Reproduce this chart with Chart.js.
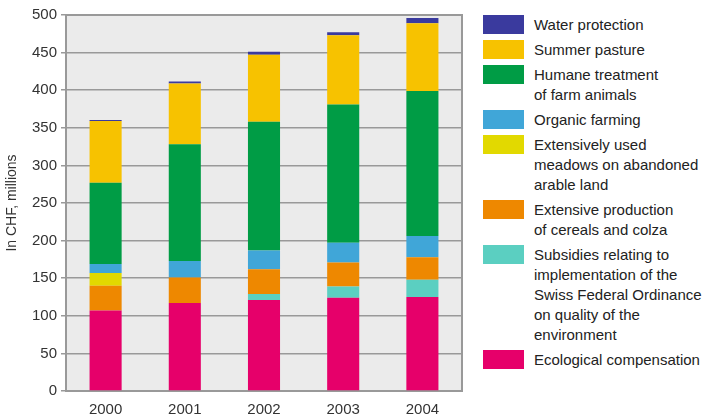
<!DOCTYPE html>
<html>
<head>
<meta charset="utf-8">
<script src="https://cdn.jsdelivr.net/npm/chart.js@4"></script>
<style>
  body { margin: 0; background: #fff; font-family: "Liberation Sans", Arial, sans-serif; }
  #wrap { position: absolute; left: 0; top: 0; width: 464px; height: 414px; }
  #legend { position: absolute; left: 483px; top: 15px; width: 222px; font-size: 15px; color: #222; }
  .item { position: relative; padding-left: 51px; line-height: 20px; margin-bottom: 5px; white-space: nowrap; }
  .box { position: absolute; left: 0; top: 0; width: 41px; height: 19px; }
</style>
</head>
<body>
<div id="wrap"><canvas id="graph1" width="464" height="414"></canvas></div>
<div id="legend"></div>
<script>
var years = ["2000", "2001", "2002", "2003", "2004"];

// stacked bottom to top
var ecological = [107, 117, 121, 124, 125];
var subsidies = [0, 0, 8, 15, 23];
var cereals = [33, 34, 33, 32, 30];
var meadows = [17, 0, 0, 0, 0];
var organic = [12, 22, 25, 26, 28];
var humane = [108, 155, 171, 184, 193];
var summer = [82, 81, 89, 92, 90];
var water = [1.5, 2.5, 4, 4, 7];

var yTicks = [0, 50, 100, 150, 200, 250, 300, 350, 400, 450, 500];

var series = [
  { label: ["Ecological compensation"], data: ecological, color: "#e6006a" },
  { label: ["Subsidies relating to", "implementation of the", "Swiss Federal Ordinance", "on quality of the", "environment"], data: subsidies, color: "#5bcfc1" },
  { label: ["Extensive production", "of cereals and colza"], data: cereals, color: "#ee8800" },
  { label: ["Extensively used", "meadows on abandoned", "arable land"], data: meadows, color: "#e2d900" },
  { label: ["Organic farming"], data: organic, color: "#40a6d8" },
  { label: ["Humane treatment", "of farm animals"], data: humane, color: "#009c45" },
  { label: ["Summer pasture"], data: summer, color: "#f7c200" },
  { label: ["Water protection"], data: water, color: "#3a3a9e" }
];

var plotBg = {
  id: 'plotBg',
  beforeDraw: function(chart) {
    var a = chart.chartArea, c = chart.ctx;
    c.save();
    c.fillStyle = '#ebebeb';
    c.fillRect(a.left, a.top, a.right - a.left, a.bottom - a.top);
    c.restore();
  },
  afterDatasetsDraw: function(chart) {
    var a = chart.chartArea, c = chart.ctx;
    c.save();
    c.strokeStyle = '#999';
    c.lineWidth = 2;
    c.beginPath();
    c.moveTo(a.left, a.top);
    c.lineTo(a.right, a.top);
    c.lineTo(a.right, a.bottom);
    c.stroke();
    c.restore();
  }
};

var ctx = document.getElementById('graph1').getContext('2d');
var chart = new Chart(ctx, {
    type: 'bar',
    data: {
        labels: years,
        datasets: series.map(function(s) {
            return {
                label: s.label.join(' '),
                data: s.data,
                backgroundColor: s.color,
                borderWidth: 0,
                categoryPercentage: 1,
                barPercentage: 0.405
            };
        })
    },
    options: {
      responsive: false,
      animation: false,
      layout: { padding: { top: 15, right: 2, left: 0, bottom: 0 } },
      plugins: { legend: { display: false }, tooltip: { enabled: false } },
      scales: {
        x: {
          stacked: true,
          grid: { display: false },
          border: { color: '#999', width: 2 },
          ticks: { color: '#333', font: { family: 'Liberation Sans', size: 15 }, padding: 2 },
          afterFit: function(s) { s.height = 23; }
        },
        y: {
          stacked: true,
          min: 0,
          max: 500,
          afterBuildTicks: function(s) { s.ticks = yTicks.map(function(v) { return { value: v }; }); },
          grid: { color: '#999', lineWidth: 1.5, tickLength: 5 },
          border: { color: '#999', width: 2 },
          ticks: { color: '#333', font: { family: 'Liberation Sans', size: 15 }, padding: 4 },
          title: { display: true, text: 'In CHF, millions', color: '#333', font: { family: 'Liberation Sans', size: 14 }, padding: { top: 4, bottom: 0 } },
          afterFit: function(s) { s.width = 66; }
        }
      }
    },
    plugins: [plotBg]
});

// legend, top to bottom is the reverse of the stack
var legend = document.getElementById('legend');
series.slice().reverse().forEach(function(s) {
  var div = document.createElement('div');
  div.className = 'item';
  var box = document.createElement('span');
  box.className = 'box';
  box.style.background = s.color;
  div.appendChild(box);
  s.label.forEach(function(line, i) {
    if (i) div.appendChild(document.createElement('br'));
    div.appendChild(document.createTextNode(line));
  });
  legend.appendChild(div);
});
</script>
</body>
</html>
